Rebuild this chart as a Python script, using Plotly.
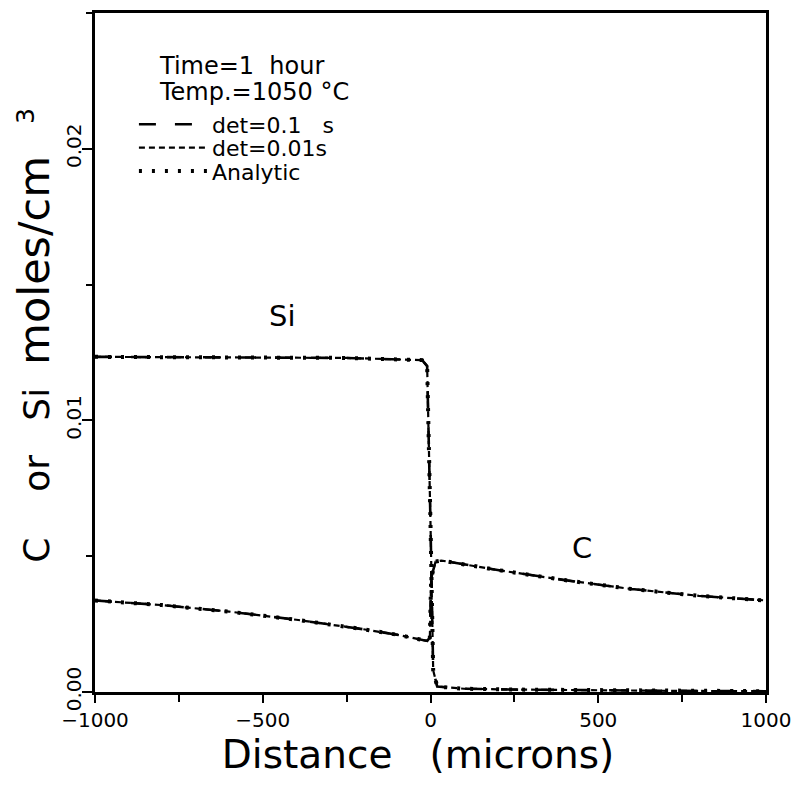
import plotly.graph_objects as go

# ---- data ----
x_si = [-1000, -750, -500, -250, -25, -10, 0, 8, 20, 100, 250, 500, 750, 1000]
si_vals = [0.01234, 0.01233, 0.01232, 0.01230, 0.01222, 0.01200, 0.00620, 0.00080,
           0.00020, 0.00012, 0.00009, 0.00006, 0.00004, 0.00003]

x_c = [-1000, -800, -600, -400, -200, -100, -10, -2, 2, 15, 33, 100, 200, 400, 600, 800, 1000]
c_vals = [0.00337, 0.00320, 0.00296, 0.00266, 0.00231, 0.00211, 0.00188, 0.00200,
          0.00420, 0.00480, 0.00484, 0.00469, 0.00449, 0.00412, 0.00379, 0.00354, 0.00337]

series_names = ["det=0.1\u00a0\u00a0\u00a0s", "det=0.01s", "Analytic"]
series_dash = ["17px,19px", "6px,4px", "3px,10px"]
series_width = [2.6, 2.2, 4.0]
series_legend = ["legend", "legend2", "legend3"]

curve_labels = ["Si", "C"]
curve_label_x = [-442, 452]
curve_label_y = [0.01385, 0.00531]

x_tickvals = [-1000, -500, 0, 500, 1000]
y_tickvals = [0.00, 0.01, 0.02]
y_ticktext = ["0.00", "0.01", "0.02"]

info_lines = ["Time=1\u00a0\u00a0hour", "Temp.=1050\u00a0°C"]

FONT = "DejaVu Sans"
NB = "\u00a0"
ZW = "\u200b"

fig = go.Figure()
for name, dash, w, lg in zip(series_names, series_dash, series_width, series_legend):
    fig.add_trace(go.Scatter(x=x_si, y=si_vals, mode="lines", name=name,
                             legendgroup=name, showlegend=True, legend=lg,
                             line=dict(color="black", dash=dash, width=w)))
    fig.add_trace(go.Scatter(x=x_c, y=c_vals, mode="lines", name=name,
                             legendgroup=name, showlegend=False, legend=lg,
                             line=dict(color="black", dash=dash, width=w)))

for t, xx, yy in zip(curve_labels, curve_label_x, curve_label_y):
    fig.add_annotation(x=xx, y=yy, text=t, showarrow=False,
                       font=dict(size=29, color="black", family=FONT))

info_y = [0.9223, 0.8842]
for t, yy in zip(info_lines, info_y):
    fig.add_annotation(xref="paper", yref="paper", x=0.092, y=yy, xanchor="left",
                       yanchor="middle", align="left", showarrow=False, text=t,
                       font=dict(size=24, color="black", family=FONT))

leg_common = dict(x=0.0580, xanchor="left", yanchor="middle",
                  bgcolor="rgba(0,0,0,0)", borderwidth=0,
                  font=dict(size=22, color="black", family=FONT),
                  tracegroupgap=0, itemwidth=68)

fig.update_layout(
    width=801, height=785,
    margin=dict(l=95, r=34, t=10, b=93),
    paper_bgcolor="white", plot_bgcolor="white",
    font=dict(family=FONT, color="black"),
    legend=dict(y=0.8358, **leg_common),
    legend2=dict(y=0.8013, **leg_common),
    legend3=dict(y=0.7669, **leg_common),
    showlegend=True,
)

x_title = "Distance" + NB * 3 + "(microns)" + NB * 2 + ZW

fig.update_xaxes(range=[-1000, 1000], tickvals=x_tickvals,
                 ticks="outside", ticklen=8, tickwidth=2, tickcolor="black",
                 minor=dict(dtick=250, ticks="outside", ticklen=7, tickwidth=2, tickcolor="black"),
                 showline=True, linewidth=2.5, linecolor="black", mirror=True,
                 showgrid=False, zeroline=False,
                 tickfont=dict(size=20, family=FONT, color="black"),
                 title=dict(text=x_title,
                            font=dict(size=39, family=FONT, color="black"),
                            standoff=0))

y_title = (ZW + NB * 3 + "C" + NB * 4 + "or" + NB * 3 + "Si" + NB * 2
           + "<span style='font-size:43px'>moles/cm</span>" + "<sup>" + NB * 4 + "3</sup>")

fig.update_yaxes(range=[0, 0.025], tickvals=y_tickvals, ticktext=y_ticktext,
                 tickangle=-90, ticklabelstandoff=-7,
                 ticks="outside", ticklen=10, tickwidth=2, tickcolor="black",
                 minor=dict(dtick=0.005, ticks="outside", ticklen=6, tickwidth=2, tickcolor="black"),
                 showline=True, linewidth=2.5, linecolor="black", mirror=True,
                 showgrid=False, zeroline=False,
                 tickfont=dict(size=20, family=FONT, color="black"),
                 title=dict(text=y_title,
                            font=dict(size=36, family=FONT, color="black"),
                            standoff=2))

fig.write_html("out.html")
